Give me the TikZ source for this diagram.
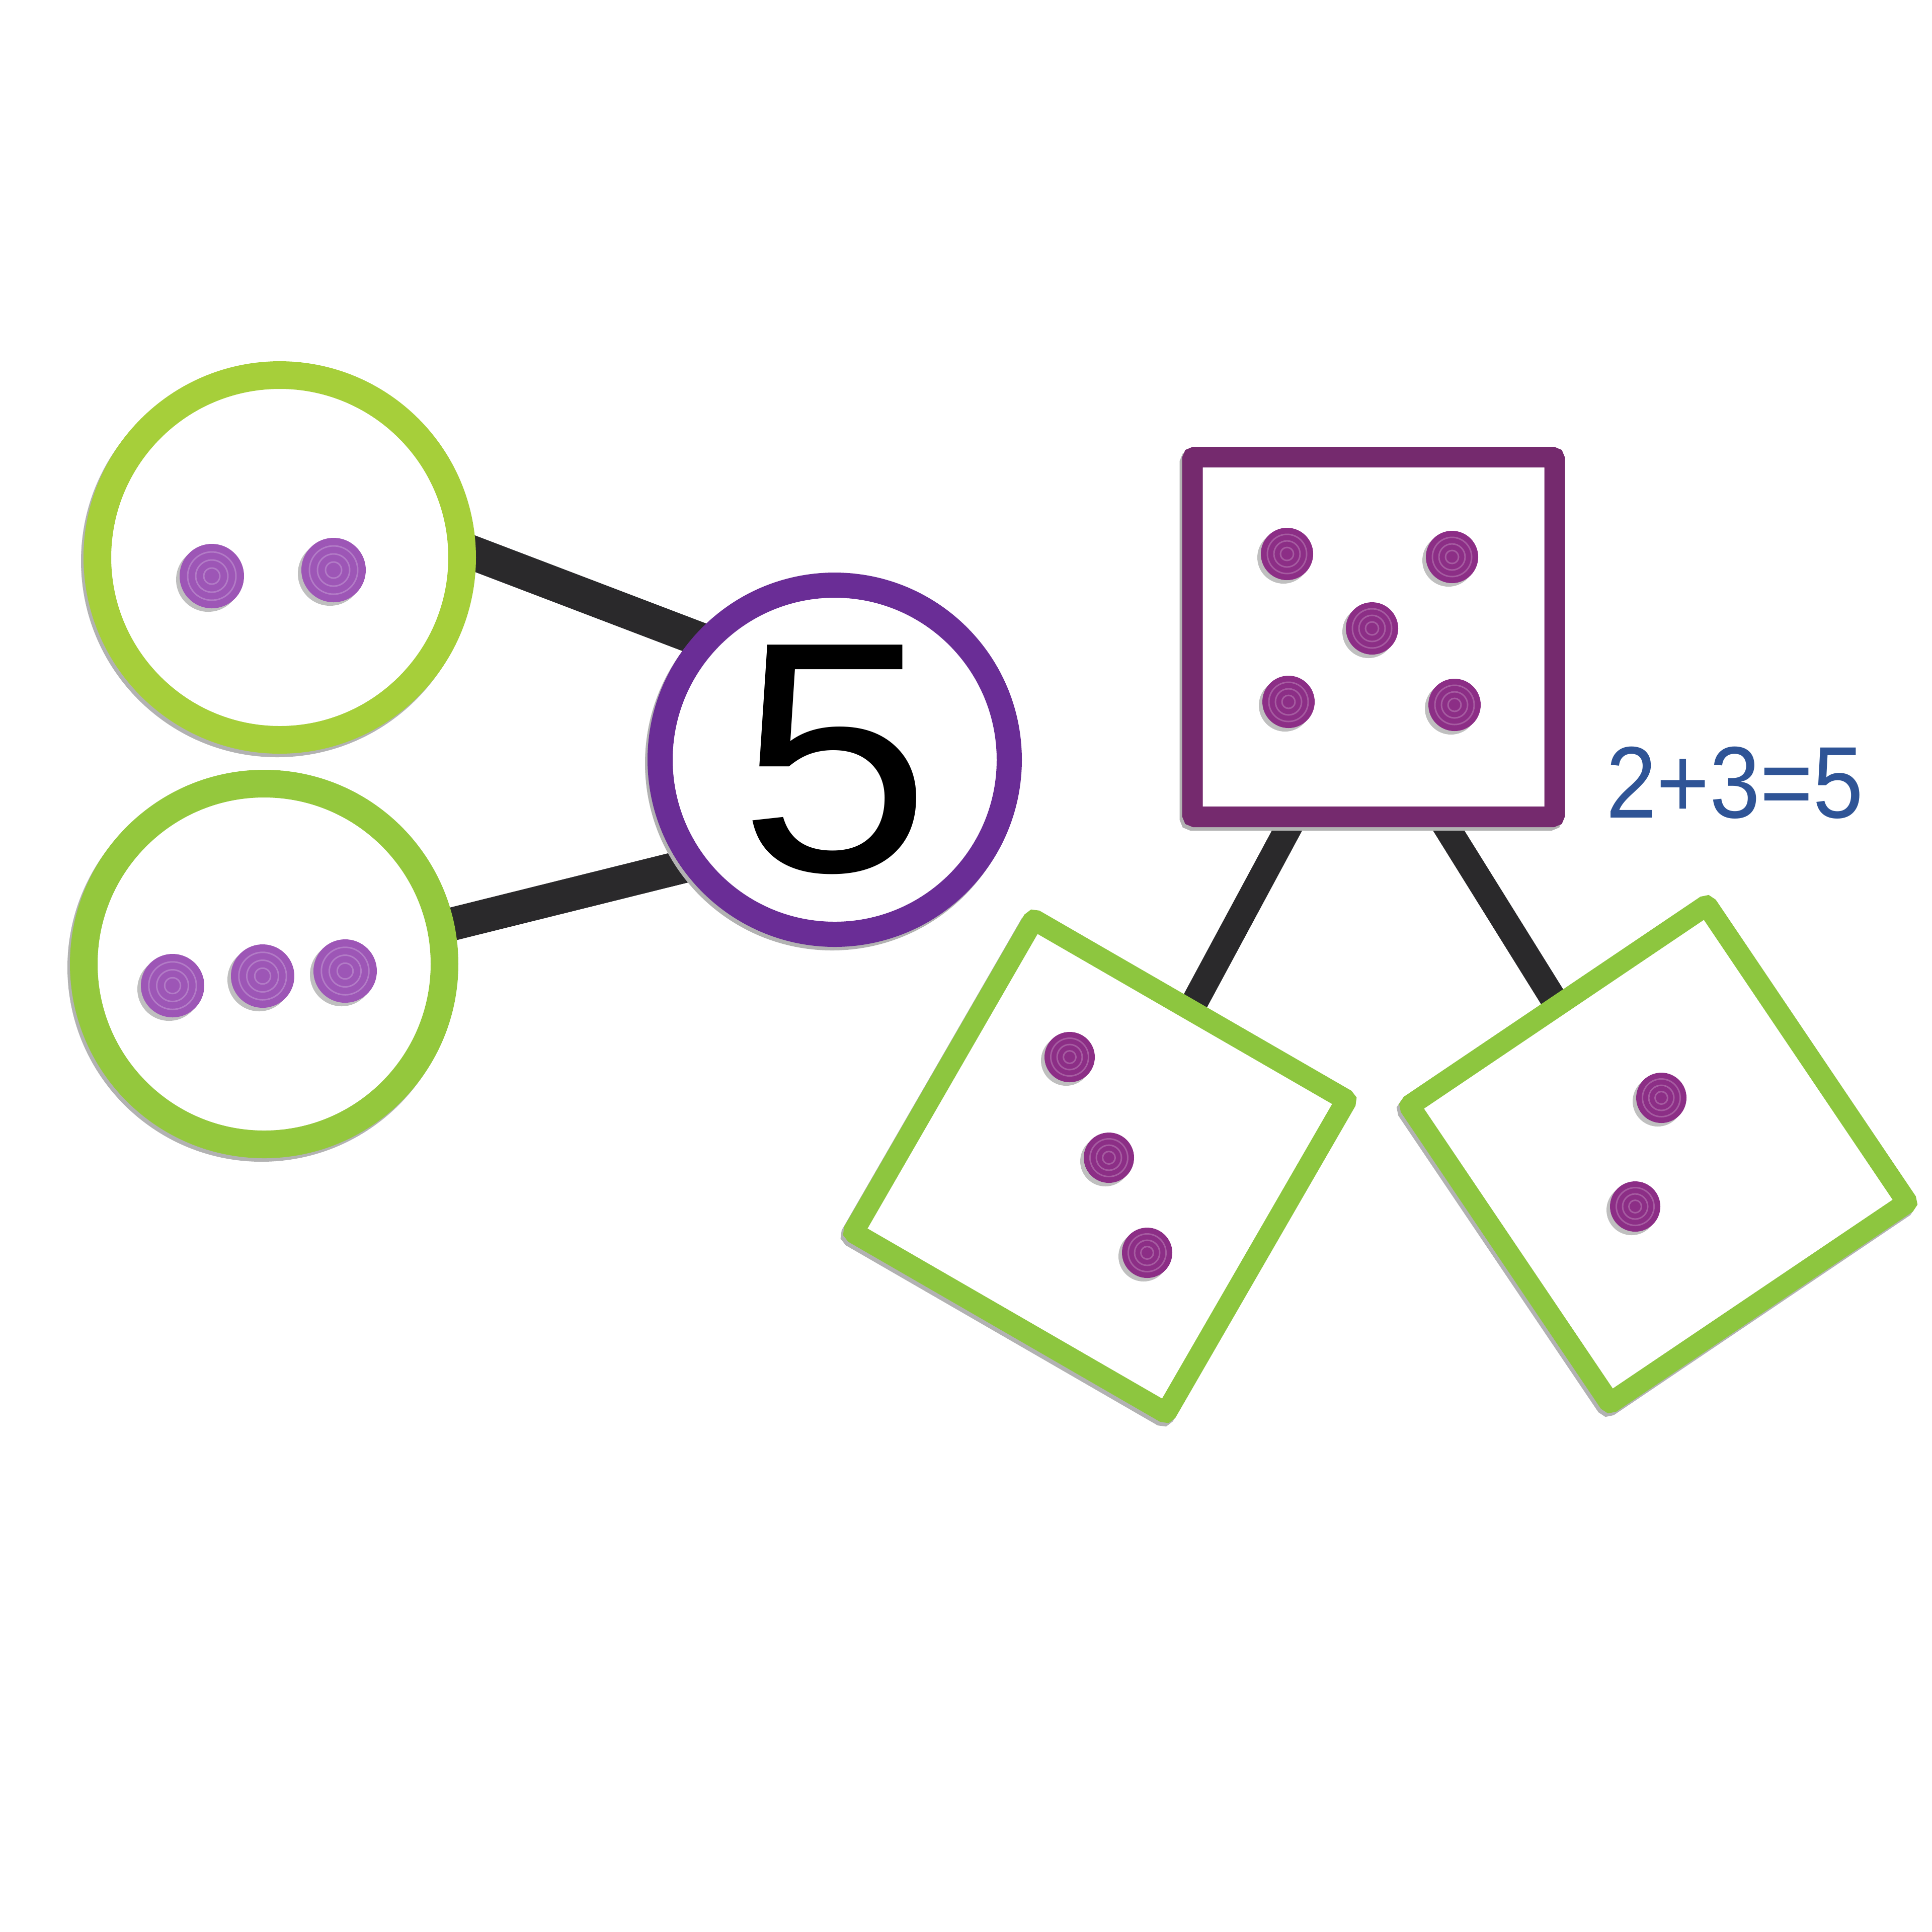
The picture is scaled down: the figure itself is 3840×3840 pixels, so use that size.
\documentclass[tikz,border=0pt]{standalone}
\usepackage{fontspec}
\usepackage{xcolor}
\usetikzlibrary{shadows}
\newfontfamily\eqfont{Liberation Sans}[FakeStretch=0.89]
\newfontfamily\numfont{Liberation Sans}[FakeStretch=1.05]
\definecolor{ringlime}{RGB}{166,207,58}
\definecolor{ringgreen}{RGB}{148,200,61}
\definecolor{framegreen}{RGB}{141,198,63}
\definecolor{ringviolet}{RGB}{106,45,150}
\definecolor{frameplum}{RGB}{117,42,110}
\definecolor{dotlilac}{RGB}{157,86,182}
\definecolor{dotplum}{RGB}{140,46,134}
\definecolor{stripblack}{RGB}{42,41,43}
\definecolor{sumblue}{RGB}{47,84,150}
\pgfdeclarelayer{background}
\pgfsetlayers{background,main}
\tikzset{
	board/.style={inner sep=0pt, fill=white,
		preaction={draw=black!30, fill=black!30, transform canvas={xshift=-0.5mm,yshift=-0.7mm}}},
	numring/.style={board, circle, line width=#1},
	numframe/.style={board, rectangle, rounded corners=0.5mm, line width=#1},
	magstrip/.style={line width=#1, draw=stripblack, shorten <=-8mm, shorten >=-8mm,
		preaction={draw=black!25, transform canvas={xshift=-0.6mm,yshift=-0.8mm}}},
	counterdot/.style={circle, inner sep=0pt, minimum size=#1, draw=none,
		drop shadow={shadow xshift=-0.7mm, shadow yshift=-0.7mm, fill=black!45, opacity=0.55},
		path picture={\foreach \k in {0.25,0.5,0.75}
			\draw[white, opacity=0.22, line width=0.3mm] (path picture bounding box.center) circle[radius=\k*#1/2];}}
}

\begin{document}
\begin{tikzpicture}[x=0.1mm,y=-0.1mm]
	\begin{pgfonlayer}{background}
		\fill[white] (0,0) rectangle (3840,3840);
	\end{pgfonlayer}
	\useasboundingbox (0,0) rectangle (3840,3840);
	\node[numring=5.5mm, draw=ringlime, minimum size=72.5mm] (twoset) at (556,1108) {};
	\node[numring=5.5mm, draw=ringgreen, minimum size=71.7mm] (threeset) at (525,1916) {};
	\node[numring=5mm, draw=ringviolet, minimum size=69.4mm,
		font=\numfont\fontsize{186pt}{190pt}\selectfont] (whole) at (1659,1510) {5};
	\node[numframe=4.1mm, draw=frameplum, minimum width=72mm, minimum height=71.5mm] (wholebox) at (2730,1266) {};
	\node[numframe=4.2mm, draw=framegreen, minimum size=71.8mm, rotate=-30] (threebox) at (2186,2318) {};
	\node[numframe=4.2mm, draw=framegreen, minimum size=71.3mm, rotate=34] (twobox) at (3296,2294) {};
	\node[anchor=base west, inner sep=0pt, text=sumblue,
		font=\eqfont\fontsize{57.6pt}{60pt}\selectfont] (sum) at (3192,1625) {2+3=5};
	\foreach \p [count=\i] in {(421,1145),(663,1133)}
		\node[counterdot=12.8mm, fill=dotlilac] (twodot\i) at \p {};
	\foreach \p [count=\i] in {(343,1959),(522,1940),(686,1930)}
		\node[counterdot=12.6mm, fill=dotlilac] (threedot\i) at \p {};
	\foreach \p [count=\i] in {(2558,1101),(2886,1107),(2727,1249),(2561,1395),(2891,1401)}
		\node[counterdot=10.4mm, fill=dotplum] (wholedot\i) at \p {};
	\foreach \p [count=\i] in {(2126,2101),(2204,2301),(2280,2490)}
		\node[counterdot=10mm, fill=dotplum] (threeboxdot\i) at \p {};
	\foreach \p [count=\i] in {(3302,2182),(3250,2398)}
		\node[counterdot=10mm, fill=dotplum] (twoboxdot\i) at \p {};
	\begin{pgfonlayer}{background}
		\draw[magstrip=6.8mm] (twoset.1) -- (whole.139);
		\draw[magstrip=6.6mm] (threeset.12) -- (whole.215);
		\draw[magstrip=5.3mm] (wholebox.-114) -- (threebox.north);
		\draw[magstrip=5.3mm] (wholebox.-69) -- (twobox.north);
	\end{pgfonlayer}
\end{tikzpicture}
\end{document}
